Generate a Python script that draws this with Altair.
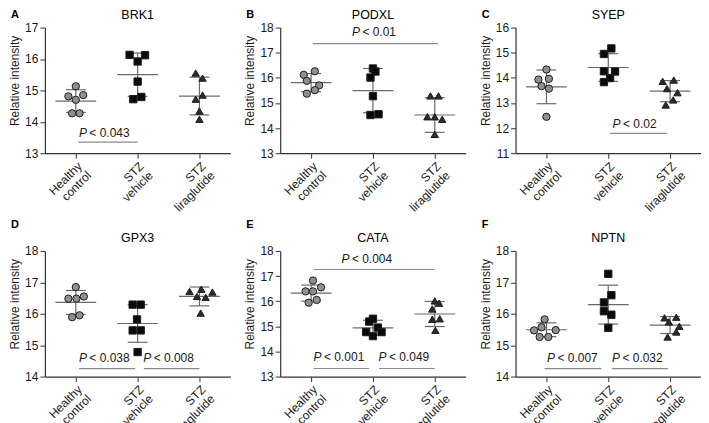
import altair as alt
import pandas as pd

FONT = "Liberation Sans"

groups = ["Healthy control", "STZ vehicle", "STZ liraglutide"]
letters = ["A", "B", "C", "D", "E", "F"]
titles = ["BRK1", "PODXL", "SYEP", "GPX3", "CATA", "NPTN"]
y_ranges = [(13, 17), (13, 18), (11, 16), (14, 18), (13, 18), (14, 18)]

# ---- individual values (Relative intensity) ----
A_healthy = [15.13, 14.81, 14.85, 14.70, 14.27, 14.27]
A_vehicle = [16.13, 16.12, 15.92, 15.28, 14.79, 14.72]
A_lira = [15.55, 15.39, 14.85, 14.72, 14.34, 14.08]
B_healthy = [16.12, 16.26, 15.88, 15.70, 15.37, 15.51]
B_vehicle = [16.37, 16.25, 16.01, 15.27, 14.52, 14.55]
B_lira = [15.28, 15.28, 14.45, 14.45, 14.35, 13.75]
C_healthy = [14.33, 13.93, 13.96, 13.67, 13.57, 12.45]
C_vehicle = [15.17, 14.95, 14.26, 14.25, 13.99, 13.83]
C_lira = [13.86, 13.91, 13.57, 13.41, 13.12, 12.92]
D_healthy = [16.85, 16.48, 16.48, 16.55, 15.89, 15.95]
D_vehicle = [16.29, 16.29, 15.82, 15.47, 15.47, 14.78]
D_lira = [16.71, 16.78, 16.69, 16.55, 16.52, 16.02]
E_healthy = [16.82, 16.55, 16.39, 16.39, 15.94, 16.05]
E_vehicle = [15.30, 15.19, 14.95, 14.77, 14.77, 14.61]
E_lira = [16.01, 15.92, 15.69, 15.28, 15.30, 14.84]
F_healthy = [15.82, 15.47, 15.57, 15.48, 15.26, 15.26]
F_vehicle = [17.27, 16.59, 16.36, 16.08, 15.97, 15.55]
F_lira = [15.87, 15.89, 15.74, 15.60, 15.26, 15.42]

# ---- horizontal scatter of the dots (in category units) ----
A_healthy_dx = [0.0, -0.12, 0.12, 0.0, -0.06, 0.06]
A_vehicle_dx = [-0.13, 0.12, 0.0, 0.0, 0.06, -0.07]
A_lira_dx = [-0.06, 0.05, 0.05, -0.06, 0.0, 0.0]
B_healthy_dx = [-0.12, 0.06, -0.07, 0.13, -0.07, 0.06]
B_vehicle_dx = [0.0, 0.04, -0.04, 0.0, -0.04, 0.09]
B_lira_dx = [-0.07, 0.06, -0.12, 0.0, 0.12, 0.0]
C_healthy_dx = [0.0, -0.13, 0.04, -0.08, 0.04, 0.0]
C_vehicle_dx = [0.05, -0.07, -0.07, 0.11, 0.03, -0.07]
C_lira_dx = [-0.12, 0.06, -0.05, 0.12, 0.05, -0.07]
D_healthy_dx = [0.0, -0.12, 0.01, 0.13, -0.06, 0.06]
D_vehicle_dx = [-0.08, 0.05, -0.01, -0.08, 0.05, 0.0]
D_lira_dx = [-0.16, 0.03, 0.21, -0.04, 0.10, 0.02]
E_healthy_dx = [0.03, 0.16, -0.09, 0.03, -0.04, 0.09]
E_vehicle_dx = [0.0, -0.06, 0.08, -0.11, 0.14, 0.0]
E_lira_dx = [0.0, 0.07, -0.04, -0.04, 0.08, 0.01]
F_healthy_dx = [-0.03, -0.20, -0.08, 0.15, -0.11, 0.03]
F_vehicle_dx = [0.0, 0.05, -0.07, -0.07, 0.05, 0.0]
F_lira_dx = [-0.09, 0.10, -0.02, 0.15, -0.04, 0.10]

# ---- mean and SD per group ----
A_mean = [14.66, 15.50, 14.82]; A_sd = [0.36, 0.69, 0.60]
B_mean = [15.81, 15.49, 14.52]; B_sd = [0.36, 0.88, 0.69]
C_mean = [13.64, 14.41, 13.47]; C_sd = [0.67, 0.55, 0.42]
D_mean = [16.36, 15.69, 16.55]; D_sd = [0.38, 0.60, 0.30]
E_mean = [16.32, 14.94, 15.49]; E_sd = [0.32, 0.30, 0.50]
F_mean = [15.49, 16.29, 15.64]; F_sd = [0.22, 0.62, 0.27]

# ---- significance bars: (from, to, level) and labels: (x start, level, p) ----
A_bars = [(0.04, 1.00, 13.35)]
A_pvals = [(0.05, 13.63, "0.043")]
B_bars = [(0.03, 2.05, 17.36)]
B_pvals = [(0.66, 17.84, "0.01")]
C_bars = [(1.03, 1.95, 11.79)]
C_pvals = [(1.07, 12.16, "0.02")]
D_bars = [(0.05, 0.96, 14.25), (1.10, 2.00, 14.25)]
D_pvals = [(0.05, 14.60, "0.038"), (1.09, 14.60, "0.008")]
E_bars = [(0.04, 2.00, 17.26), (0.04, 0.94, 13.32), (1.10, 2.00, 13.32)]
E_pvals = [(0.49, 17.66, "0.004"), (0.04, 13.77, "0.001"), (1.09, 13.77, "0.049")]
F_bars = [(-0.03, 0.89, 14.25), (1.06, 1.97, 14.25)]
F_pvals = [(0.01, 14.60, "0.007"), (1.06, 14.60, "0.032")]

values = {
    "A": [A_healthy, A_vehicle, A_lira], "B": [B_healthy, B_vehicle, B_lira],
    "C": [C_healthy, C_vehicle, C_lira], "D": [D_healthy, D_vehicle, D_lira],
    "E": [E_healthy, E_vehicle, E_lira], "F": [F_healthy, F_vehicle, F_lira],
}
jitter = {
    "A": [A_healthy_dx, A_vehicle_dx, A_lira_dx], "B": [B_healthy_dx, B_vehicle_dx, B_lira_dx],
    "C": [C_healthy_dx, C_vehicle_dx, C_lira_dx], "D": [D_healthy_dx, D_vehicle_dx, D_lira_dx],
    "E": [E_healthy_dx, E_vehicle_dx, E_lira_dx], "F": [F_healthy_dx, F_vehicle_dx, F_lira_dx],
}
means = {"A": A_mean, "B": B_mean, "C": C_mean, "D": D_mean, "E": E_mean, "F": F_mean}
sds = {"A": A_sd, "B": B_sd, "C": C_sd, "D": D_sd, "E": E_sd, "F": F_sd}
bars = {"A": A_bars, "B": B_bars, "C": C_bars, "D": D_bars, "E": E_bars, "F": F_bars}
pvals = {"A": A_pvals, "B": B_pvals, "C": C_pvals, "D": D_pvals, "E": E_pvals, "F": F_pvals}

# two-line tick labels built from the category names
parts = [g.split(" ", 1) for g in groups]
label_expr = (
    f"datum.value == 0 ? ['{parts[0][0]}', '{parts[0][1]}'] : "
    f"datum.value == 1 ? ['{parts[1][0]}', '{parts[1][1]}'] : "
    f"['{parts[2][0]}', '{parts[2][1]}']"
)

W, H = 186, 126
LINE = "#6a6a6a"
SIG = "#8c8c8c"
TXT = "#1a1a1a"


def make_panel(k, letter_dy):
    i = letters.index(k)
    lo, hi = y_ranges[i]
    rows = []
    for gi, g in enumerate(groups):
        for v, d in zip(values[k][gi], jitter[k][gi]):
            rows.append({"group": g, "xp": gi + d, "val": v})
    pts = pd.DataFrame(rows)
    stats = pd.DataFrame({"group": groups, "gi": [0, 1, 2], "mean": means[k], "sd": sds[k]})
    sig_df = pd.DataFrame(bars[k], columns=["x1", "x2", "y"])
    lab_df = pd.DataFrame(pvals[k], columns=["x", "y", "p"])

    x_axis = alt.Axis(values=[0, 1, 2], labelExpr=label_expr, labelAngle=315,
                      labelAlign="right", labelBaseline="top", labelLineHeight=13,
                      title=None)
    y_axis = alt.Axis(values=list(range(lo, hi + 1)), title="Relative intensity",
                      titleY=53)
    xs = alt.Scale(domain=[-0.5, 2.5], nice=False, zero=False)
    ys = alt.Scale(domain=[lo, hi], nice=False, zero=False)

    def X(f):
        return alt.X(f, type="quantitative", scale=xs, axis=x_axis)

    def Y(f):
        return alt.Y(f, type="quantitative", scale=ys, axis=y_axis)

    st = alt.Chart(stats).transform_calculate(
        lo="datum.mean - datum.sd", hi="datum.mean + datum.sd",
        ml="datum.gi - 0.33", mr="datum.gi + 0.33",
        cl="datum.gi - 0.16", cr="datum.gi + 0.16",
    )
    vline = st.mark_rule(color=LINE, strokeWidth=1.2).encode(x=X("gi"), y=Y("lo"), y2="hi:Q")
    cap_lo = st.mark_rule(color=LINE, strokeWidth=1.2).encode(x=X("cl"), x2="cr:Q", y=Y("lo"))
    cap_hi = st.mark_rule(color=LINE, strokeWidth=1.2).encode(x=X("cl"), x2="cr:Q", y=Y("hi"))
    mline = st.mark_rule(color=LINE, strokeWidth=1.2).encode(x=X("ml"), x2="mr:Q", y=Y("mean"))

    sig = alt.Chart(sig_df).mark_rule(color=SIG, strokeWidth=1.2).encode(
        x=X("x1"), x2="x2:Q", y=Y("y"))

    points = alt.Chart(pts).mark_point(filled=True, size=54, stroke="#1e1e1e",
                                       strokeWidth=1, opacity=1).encode(
        x=X("xp"), y=Y("val"),
        shape=alt.Shape("group:N", scale=alt.Scale(domain=groups,
                        range=["circle", "square", "triangle-up"]), legend=None),
        fill=alt.Fill("group:N", scale=alt.Scale(domain=groups,
                      range=["#8f8f8f", "#0a0a0a", "#2b2b2b"]), legend=None),
    )

    p_it = alt.Chart(lab_df).mark_text(fontStyle="italic", align="left", baseline="middle",
                                       fontSize=12, font=FONT, color=TXT).encode(
        x=X("x"), y=Y("y"), text=alt.value("P"))
    p_rest = alt.Chart(lab_df).transform_calculate(t="'< ' + datum.p").mark_text(
        align="left", baseline="middle", dx=10.5, fontSize=12, font=FONT, color=TXT).encode(
        x=X("x"), y=Y("y"), text="t:N")

    head = pd.DataFrame({"letter": [k], "name": [titles[i]]})
    letter = alt.Chart(head).mark_text(
        align="left", baseline="middle", fontSize=11, fontWeight="bold", font=FONT,
        color="#000").encode(x=alt.value(-34), y=alt.value(letter_dy), text="letter:N")
    title = alt.Chart(head).mark_text(
        align="center", baseline="middle", fontSize=12.5, font=FONT,
        color="#000").encode(x=alt.value(W / 2), y=alt.value(-13), text="name:N")

    return alt.layer(sig, vline, cap_lo, cap_hi, mline, points, p_it, p_rest,
                     letter, title).properties(width=W, height=H)


panels = [make_panel("A", -13), make_panel("B", -13), make_panel("C", -13),
          make_panel("D", -26), make_panel("E", -26), make_panel("F", -26)]
chart = alt.concat(*panels, columns=3, spacing={"row": 98, "column": 50},
                   bounds="flush").properties(padding=0).configure(
    font=FONT
).configure_view(strokeWidth=0).configure_axis(
    domainColor="#333333", tickColor="#333333", labelColor=TXT, titleColor=TXT,
    labelFontSize=12, titleFontSize=12, titleFontWeight="normal", grid=False, tickSize=5,
    labelPadding=2, titlePadding=3, labelFont=FONT, titleFont=FONT, domainWidth=1.2,
)

chart.save("out.html", embed_options={"renderer": "svg", "actions": False})
